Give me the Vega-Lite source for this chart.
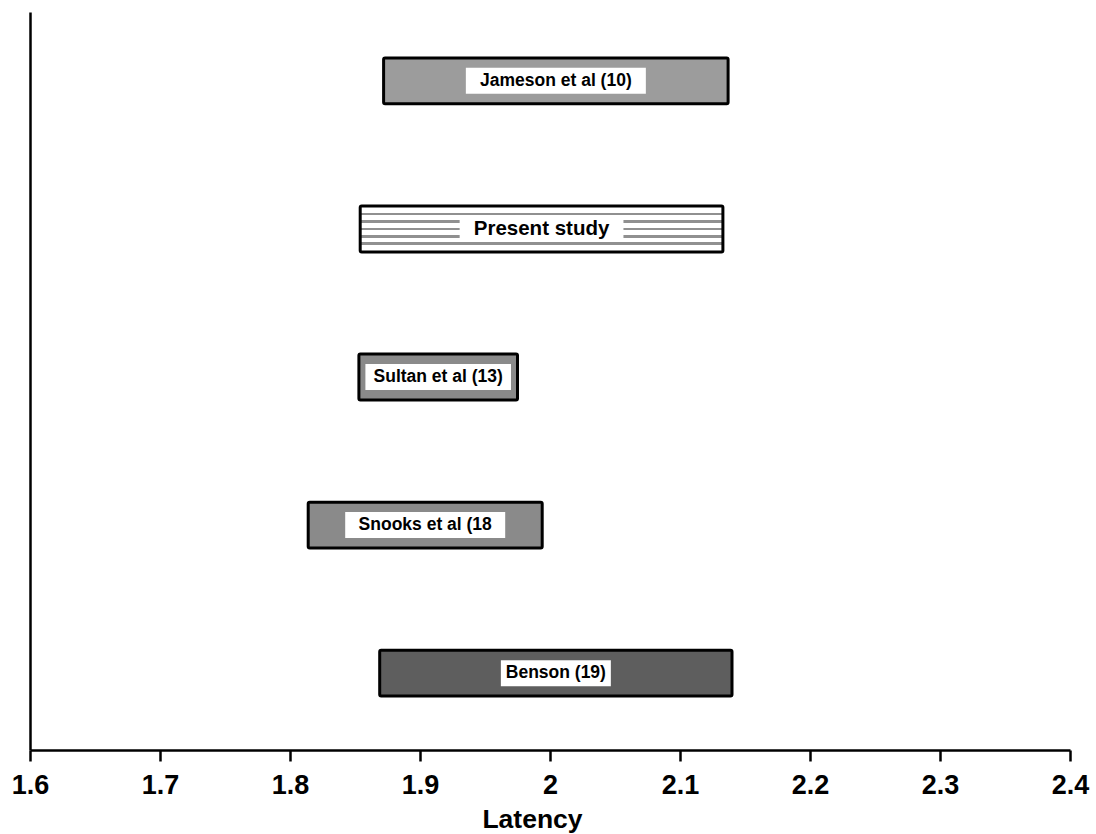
{
  "$schema": "https://vega.github.io/schema/vega-lite/v6.json",
  "width": 1040,
  "height": 738,
  "autosize": {"type": "none"},
  "padding": {"left": 30, "top": 12, "right": 26, "bottom": 84},
  "background": "white",
  "config": {"view": {"stroke": null}, "font": "Liberation Sans"},
  "data": {
    "values": [
      {"study": "Jameson et al (10)", "start": 1.872, "end": 2.137},
      {"study": "Present study", "start": 1.854, "end": 2.133},
      {"study": "Sultan et al (13)", "start": 1.853, "end": 1.975},
      {"study": "Snooks et al (18", "start": 1.814, "end": 1.994},
      {"study": "Benson (19)", "start": 1.869, "end": 2.14}
    ]
  },
  "transform": [
    {"calculate": "(datum.start + datum.end) / 2", "as": "mid"},
    {"calculate": "(datum.study === 'Present study' ? 6.3 : 5) * length(datum.study) / 1300", "as": "hw"},
    {"calculate": "max(datum.start + 0.005, datum.mid - datum.hw)", "as": "bx1"},
    {"calculate": "min(datum.end - 0.005, datum.mid + datum.hw)", "as": "bx2"}
  ],
  "encoding": {
    "y": {
      "field": "study",
      "type": "nominal",
      "sort": null,
      "scale": {"paddingInner": 0.69, "paddingOuter": 0.337, "align": 0.46},
      "axis": {
        "title": null,
        "labels": false,
        "ticks": false,
        "grid": false,
        "domain": true,
        "domainColor": "black",
        "domainWidth": 2.5
      }
    }
  },
  "layer": [
    {
      "mark": {"type": "bar", "stroke": "black", "strokeWidth": 3, "cornerRadius": 1.5},
      "encoding": {
        "x": {
          "field": "start",
          "type": "quantitative",
          "scale": {"domain": [1.6, 2.4], "nice": false, "zero": false},
          "axis": {
            "values": [1.6, 1.7, 1.8, 1.9, 2, 2.1, 2.2, 2.3, 2.4],
            "format": "~g",
            "grid": false,
            "domainColor": "black",
            "domainWidth": 2.5,
            "tickColor": "black",
            "tickWidth": 2.5,
            "tickSize": 11,
            "labelFont": "Liberation Sans",
            "labelFontWeight": "bold",
            "labelFontSize": 27,
            "labelColor": "black",
            "labelBaseline": "alphabetic",
            "labelPadding": 32,
            "labelFlush": false,
            "labelOverlap": false,
            "title": "Latency",
            "titleFont": "Liberation Sans",
            "titleFontWeight": "bold",
            "titleFontSize": 26.5,
            "titleColor": "black",
            "titleAlign": "center",
            "titleBaseline": "alphabetic",
            "titleX": 502,
            "titleY": 77
          }
        },
        "x2": {"field": "end"},
        "fill": {
          "field": "study",
          "type": "nominal",
          "legend": null,
          "scale": {
            "domain": ["Jameson et al (10)", "Present study", "Sultan et al (13)", "Snooks et al (18", "Benson (19)"],
            "range": ["#9c9c9c", "#c4c4c4", "#8a8a8a", "#8a8a8a", "#5e5e5e"]
          },
          "condition": {
            "test": "datum.study === 'Present study'",
            "value": {
              "gradient": "linear",
              "x1": 0, "y1": 0, "x2": 0, "y2": 1,
              "stops": [
                {"offset": 0, "color": "white"},
                {"offset": 0.155, "color": "white"},
                {"offset": 0.155, "color": "#909090"},
                {"offset": 0.205, "color": "#909090"},
                {"offset": 0.205, "color": "white"},
                {"offset": 0.31, "color": "white"},
                {"offset": 0.31, "color": "#909090"},
                {"offset": 0.36, "color": "#909090"},
                {"offset": 0.36, "color": "white"},
                {"offset": 0.475, "color": "white"},
                {"offset": 0.475, "color": "#909090"},
                {"offset": 0.525, "color": "#909090"},
                {"offset": 0.525, "color": "white"},
                {"offset": 0.64, "color": "white"},
                {"offset": 0.64, "color": "#909090"},
                {"offset": 0.69, "color": "#909090"},
                {"offset": 0.69, "color": "white"},
                {"offset": 0.795, "color": "white"},
                {"offset": 0.795, "color": "#909090"},
                {"offset": 0.845, "color": "#909090"},
                {"offset": 0.845, "color": "white"},
                {"offset": 1, "color": "white"}
              ]
            }
          }
        }
      }
    },
    {
      "mark": {"type": "bar", "fill": "white", "size": 26},
      "encoding": {
        "x": {"field": "bx1", "type": "quantitative"},
        "x2": {"field": "bx2"}
      }
    },
    {
      "mark": {
        "type": "text",
        "font": "Liberation Sans",
        "fontWeight": "bold",
        "baseline": "middle",
        "align": "center",
        "color": "black"
      },
      "encoding": {
        "x": {"field": "mid", "type": "quantitative"},
        "text": {"field": "study"},
        "size": {"condition": {"test": "datum.study === 'Present study'", "value": 20.5}, "value": 17.5}
      }
    }
  ]
}
